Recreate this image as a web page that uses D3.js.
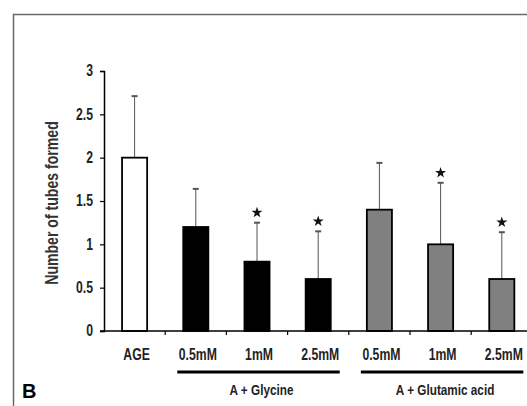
<!DOCTYPE html>
<html>
<head>
<meta charset="utf-8">
<script src="https://cdn.jsdelivr.net/npm/d3@7"></script>
<style>
  body { margin: 0; background: #fff; }
  svg text { font-family: "Liberation Sans", Arial, sans-serif; font-weight: bold; }
</style>
</head>
<body>
<div id="chart"></div>
<script>
'use strict';

// data
const categories = ['AGE', '0.5mM', '1mM', '2.5mM', '0.5mM ', '1mM ', '2.5mM '];
const labels = ['AGE', '0.5mM', '1mM', '2.5mM', '0.5mM', '1mM', '2.5mM'];
const means = [2.0, 1.2, 0.8, 0.6, 1.4, 1.0, 0.6];
const errors = [0.71, 0.44, 0.45, 0.55, 0.54, 0.71, 0.54];
const fills = ['#ffffff', '#000000', '#000000', '#000000', '#808080', '#808080', '#808080'];
const significant = [false, false, true, true, false, true, true];
const yTicks = [0, 0.5, 1, 1.5, 2, 2.5, 3];
const groups = [
  {label: 'A + Glycine', start: 1, end: 3},
  {label: 'A + Glutamic acid', start: 4, end: 6}
];

const width = 527, height = 406;
const margin = {left: 104, top: 71, bottom: 75};
const step = 61.2;
const stretch = 'scale(0.94,1.2)';   // the figure's lettering is tall and narrow

const svg = d3.select('#chart').append('svg')
    .attr('width', width)
    .attr('height', height);

// outer panel frame
svg.append('rect')
    .attr('x', 13.5).attr('y', 14.5)
    .attr('width', 600).attr('height', 500)
    .attr('fill', 'none')
    .attr('stroke', '#6a6a6a')
    .attr('stroke-width', 1.5);

const y = d3.scaleLinear()
    .domain([0, 3])
    .range([height - margin.bottom, margin.top]);

const x = d3.scaleBand()
    .domain(categories)
    .range([margin.left, margin.left + step * categories.length])
    .paddingInner(0.59)
    .paddingOuter(0.295);

const bw = x.bandwidth();

// error bars (upper only)
const err = svg.append('g').attr('stroke', '#555');
categories.forEach((c, i) => {
  const cx = x(c) + bw / 2;
  err.append('line')
      .attr('x1', cx).attr('x2', cx)
      .attr('y1', y(means[i])).attr('y2', y(means[i] + errors[i]))
      .attr('stroke-width', 1);
  err.append('line')
      .attr('x1', cx - 3).attr('x2', cx + 3)
      .attr('y1', y(means[i] + errors[i])).attr('y2', y(means[i] + errors[i]))
      .attr('stroke-width', 2);
});

// bars
svg.selectAll('.bar')
    .data(categories)
    .enter().append('rect')
    .attr('class', 'bar')
    .attr('x', d => x(d))
    .attr('y', (d, i) => y(means[i]))
    .attr('width', bw)
    .attr('height', (d, i) => y(0) - y(means[i]))
    .attr('fill', (d, i) => fills[i])
    .attr('stroke', '#000')
    .attr('stroke-width', 1.8);

// significance stars
svg.selectAll('.star')
    .data(categories.filter((d, i) => significant[i]))
    .enter().append('path')
    .attr('class', 'star')
    .attr('d', d3.symbol(d3.symbolStar, 38))
    .attr('transform', d => {
      const i = categories.indexOf(d);
      return 'translate(' + (x(d) + bw / 2) + ',' + (y(means[i] + errors[i]) - 10) + ')';
    })
    .attr('fill', '#111');

// y axis
const yAxis = svg.append('g')
    .attr('transform', 'translate(' + margin.left + ',0)')
    .call(d3.axisLeft(y).tickValues(yTicks).tickFormat(d3.format('')).tickSize(4).tickPadding(7));
yAxis.select('.domain').attr('stroke', '#000').attr('stroke-width', 1.5);
yAxis.selectAll('.tick line').attr('stroke', '#000').attr('stroke-width', 1.2);
yAxis.selectAll('.tick text')
    .attr('font-size', 13)
    .attr('fill', '#222')
    .attr('dy', '0.3em')
    .attr('transform', 'translate(-11,0) ' + stretch)
    .attr('x', 0);

svg.append('text')
    .attr('transform', 'translate(58,' + (y(1.5) + 2) + ') rotate(-90) ' + stretch)
    .attr('text-anchor', 'middle')
    .attr('font-size', 15)
    .attr('fill', '#333')
    .text('Number of tubes formed');

// x axis line with ticks at category boundaries
svg.append('line')
    .attr('x1', margin.left - 4).attr('x2', width)
    .attr('y1', y(0)).attr('y2', y(0))
    .attr('stroke', '#000').attr('stroke-width', 1.5);
svg.selectAll('.xtick')
    .data(d3.range(1, categories.length))
    .enter().append('line')
    .attr('x1', d => margin.left + d * step).attr('x2', d => margin.left + d * step)
    .attr('y1', y(0)).attr('y2', y(0) + 4)
    .attr('stroke', '#000').attr('stroke-width', 1.2);

svg.selectAll('.xlabel')
    .data(categories)
    .enter().append('text')
    .attr('transform', d => 'translate(' + (x(d) + bw / 2 + 2) + ',' + (y(0) + 29) + ') ' + stretch)
    .attr('text-anchor', 'middle')
    .attr('font-size', 13)
    .attr('fill', '#222')
    .text((d, i) => labels[i]);

// treatment group brackets
groups.forEach(g => {
  const x1 = x(categories[g.start]) - 6;
  const x2 = x(categories[g.end]) + bw + 9;
  svg.append('line')
      .attr('x1', x1).attr('x2', x2)
      .attr('y1', y(0) + 41).attr('y2', y(0) + 41)
      .attr('stroke', '#000').attr('stroke-width', 3);
  svg.append('text')
      .attr('transform', 'translate(' + ((x1 + x2) / 2 + 3) + ',' + (y(0) + 64) + ') ' + stretch)
      .attr('text-anchor', 'middle')
      .attr('font-size', 12.5)
      .attr('fill', '#222')
      .text(g.label);
});

// panel letter
svg.append('text')
    .attr('x', 22).attr('y', 398)
    .attr('font-size', 20)
    .attr('fill', '#000')
    .text('B');
</script>
</body>
</html>
